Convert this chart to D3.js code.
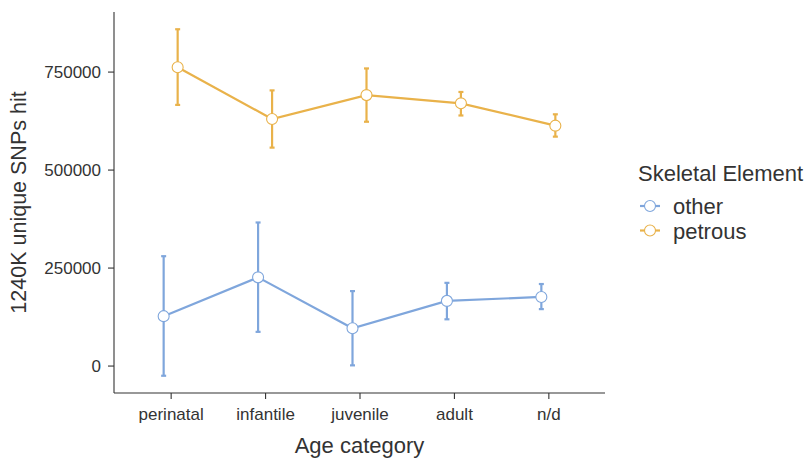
<!DOCTYPE html>
<html>
<head>
<meta charset="utf-8">
<script src="https://cdn.jsdelivr.net/npm/d3@7"></script>
<style>
  body { margin: 0; background: #fff; }
  text { font-family: "Liberation Sans", Arial, sans-serif; fill: #333; }
</style>
</head>
<body>
<div id="chart"></div>
<script>
const ageCategories = ["perinatal", "infantile", "juvenile", "adult", "n/d"];
const elements = ["other", "petrous"];
const colors = { other: "#7fa6dc", petrous: "#e9b24a" };

// mean and error bar bounds
const otherMean  = [126000, 225000, 95000, 165000, 175000];
const otherLow   = [-26000, 86000, 500, 118000, 144000];
const otherHigh  = [279000, 365000, 190000, 211000, 208000];
const petrousMean = [761000, 629000, 690000, 669000, 612000];
const petrousLow  = [665000, 556000, 622000, 638000, 584000];
const petrousHigh = [858000, 702000, 758000, 698000, 641000];

const yTicks = [0, 250000, 500000, 750000];

const w = 808, h = 459;
const margin = { left: 114, right: 203, top: 12, bottom: 66 };

const svg = d3.select("#chart").append("svg")
  .attr("width", w).attr("height", h);

const x = d3.scalePoint()
  .domain(ageCategories)
  .range([margin.left, w - margin.right])
  .padding(0.6);

const y = d3.scaleLinear()
  .domain([-70000, 902000])
  .range([h - margin.bottom, margin.top]);

const dodge = 7;

const series = [
  { name: "other", mean: otherMean, lo: otherLow, hi: otherHigh, off: -dodge },
  { name: "petrous", mean: petrousMean, lo: petrousLow, hi: petrousHigh, off: dodge }
];

// axes
const yAxis = svg.append("g")
  .attr("transform", "translate(" + margin.left + ",0)")
  .call(d3.axisLeft(y).tickValues(yTicks).tickSize(6).tickPadding(7).tickFormat(d3.format("d")));
yAxis.select(".domain").attr("stroke", "#333").attr("stroke-width", 1.1)
  .attr("d", "M0," + y.range()[0] + "V" + y.range()[1]);
yAxis.selectAll(".tick line").attr("stroke", "#333").attr("stroke-width", 1.1);
yAxis.selectAll(".tick text").attr("font-size", 17).attr("fill", "#444");

const xAxis = svg.append("g")
  .attr("transform", "translate(0," + (h - margin.bottom) + ")")
  .call(d3.axisBottom(x).tickSize(6).tickPadding(9));
xAxis.select(".domain").attr("stroke", "#333").attr("stroke-width", 1.1)
  .attr("d", "M" + margin.left + ",0H" + (w - margin.right));
xAxis.selectAll(".tick line").attr("stroke", "#333").attr("stroke-width", 1.1);
xAxis.selectAll(".tick text").attr("font-size", 17).attr("fill", "#444");

// axis titles
svg.append("text")
  .text("Age category")
  .attr("x", (margin.left + w - margin.right) / 2)
  .attr("y", 453)
  .attr("text-anchor", "middle")
  .attr("font-size", 22);

svg.append("text")
  .text("1240K unique SNPs hit")
  .attr("transform", "translate(26," + ((margin.top + h - margin.bottom) / 2) + ") rotate(-90)")
  .attr("text-anchor", "middle")
  .attr("font-size", 21.5);

// series
const line = d3.line();
series.forEach((s) => {
  const g = svg.append("g");
  const pts = ageCategories.map((c, i) => [x(c) + s.off, y(s.mean[i])]);

  g.append("path")
    .attr("d", line(pts))
    .attr("fill", "none")
    .attr("stroke", colors[s.name])
    .attr("stroke-width", 2.2);

  ageCategories.forEach((c, i) => {
    const cx = x(c) + s.off;
    g.append("line")
      .attr("x1", cx).attr("x2", cx)
      .attr("y1", y(s.lo[i])).attr("y2", y(s.hi[i]))
      .attr("stroke", colors[s.name]).attr("stroke-width", 2.2);
    [s.lo[i], s.hi[i]].forEach((v) => {
      g.append("line")
        .attr("x1", cx - 2.5).attr("x2", cx + 2.5)
        .attr("y1", y(v)).attr("y2", y(v))
        .attr("stroke", colors[s.name]).attr("stroke-width", 2.2);
    });
  });

  g.selectAll("circle")
    .data(pts)
    .enter()
    .append("circle")
    .attr("cx", (d) => d[0])
    .attr("cy", (d) => d[1])
    .attr("r", 5.5)
    .attr("fill", "#fff")
    .attr("stroke", colors[s.name])
    .attr("stroke-width", 1.1);
});

// legend
const legend = svg.append("g");
legend.append("text")
  .text("Skeletal Element")
  .attr("x", 638).attr("y", 181)
  .attr("font-size", 22);

elements.forEach((e, i) => {
  const ly = 206 + i * 24.5;
  legend.append("line")
    .attr("x1", 640).attr("x2", 660)
    .attr("y1", ly).attr("y2", ly)
    .attr("stroke", colors[e]).attr("stroke-width", 2.2);
  legend.append("circle")
    .attr("cx", 650).attr("cy", ly).attr("r", 5.5)
    .attr("fill", "#fff").attr("stroke", colors[e]).attr("stroke-width", 1.1);
  legend.append("text")
    .text(e)
    .attr("x", 673).attr("y", ly + 8)
    .attr("font-size", 22);
});
</script>
</body>
</html>
